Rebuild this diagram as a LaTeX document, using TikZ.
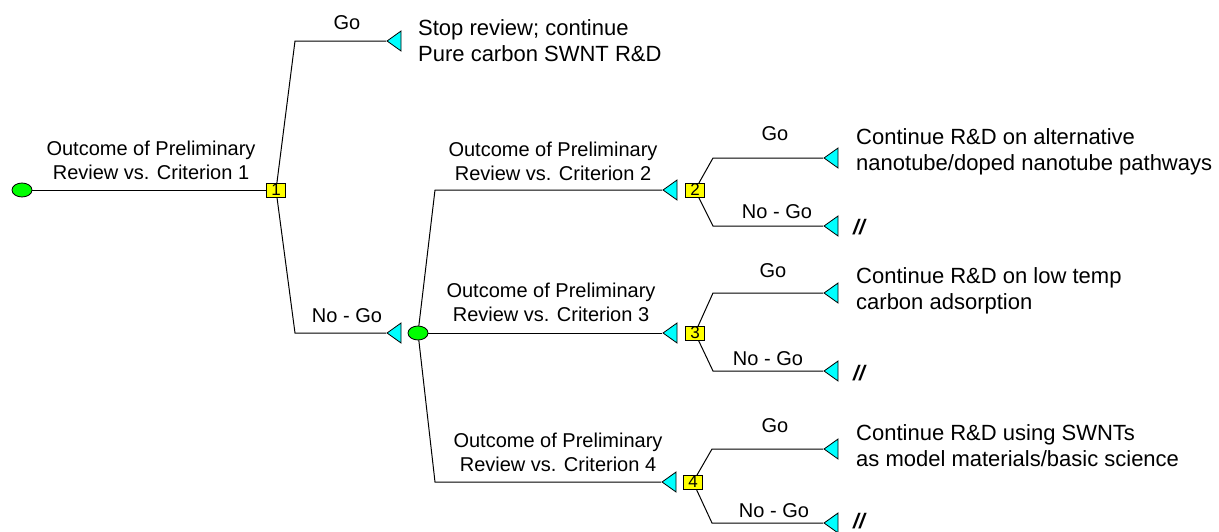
\documentclass[tikz,border=0pt]{standalone}
\usepackage{fontspec}
\setmainfont{Liberation Sans}
\usetikzlibrary{shapes.geometric,backgrounds}
\definecolor{chgreen}{RGB}{0,255,0}
\definecolor{decyellow}{RGB}{255,255,0}
\definecolor{termcyan}{RGB}{0,255,255}
\begin{document}
\begin{tikzpicture}[x=1pt,y=-1pt,
  chance/.style={ellipse,draw,fill=chgreen,minimum width=20pt,minimum height=14pt,inner sep=0,line width=0.8pt},
  decision/.style={rectangle,draw,fill=decyellow,minimum width=19pt,minimum height=14pt,inner sep=0,line width=0.8pt,font=\fontsize{17}{17}\selectfont},
  term/.style={isosceles triangle,isosceles triangle stretches,shape border rotate=180,draw,fill=termcyan,minimum width=20pt,minimum height=14pt,inner sep=0,line width=0.8pt,anchor=apex},
  lbl/.style={font=\fontsize{20}{24}\selectfont,align=center,inner sep=0},
  endtxt/.style={font=\fontsize{22}{26}\selectfont,align=left,anchor=west,inner sep=0},
  stopmark/.style={font=\fontsize{21}{24}\selectfont\bfseries\itshape,anchor=west,inner sep=0},
  branch/.style={draw,line width=1pt}]
\useasboundingbox (0,0) rectangle (1219,531);

% nodes
\node[chance] (root) at (22,190) {};
\node[decision] (d1) at (276,190) {1};
\node[term] (tgo1) at (386,41) {};
\node[term] (tng1) at (386,333) {};
\node[chance] (c1) at (418,333) {};
\node[term] (t2) at (662,190) {};
\node[term] (t3) at (662,333) {};
\node[term] (t4) at (661,482) {};
\node[decision] (d2) at (695,190) {2};
\node[decision] (d3) at (695,333) {3};
\node[decision] (d4) at (693,482) {4};
\node[term] (tgo2) at (823,158) {};
\node[term] (tng2) at (823,226) {};
\node[term] (tgo3) at (823,293) {};
\node[term] (tng3) at (823,371) {};
\node[term] (tgo4) at (823,449) {};
\node[term] (tng4) at (823,523) {};

% connectors
\begin{scope}[on background layer]
  \path[branch] (root.center) -- (d1.center);
  \path[branch] (d1.center) -- ([xshift=-91pt]tgo1.apex) -- (tgo1.apex);
  \path[branch] (d1.center) -- ([xshift=-91pt]tng1.apex) -- (tng1.apex);
  \path[branch] (c1.center) -- ([xshift=-227pt]t2.apex) -- (t2.apex);
  \path[branch] (c1.center) -- (t3.apex);
  \path[branch] (c1.center) -- ([xshift=-226pt]t4.apex) -- (t4.apex);
  \path[branch] (d2.center) -- ([xshift=-110pt]tgo2.apex) -- (tgo2.apex);
  \path[branch] (d2.center) -- ([xshift=-110pt]tng2.apex) -- (tng2.apex);
  \path[branch] (d3.center) -- ([xshift=-110pt]tgo3.apex) -- (tgo3.apex);
  \path[branch] (d3.center) -- ([xshift=-110pt]tng3.apex) -- (tng3.apex);
  \path[branch] (d4.center) -- ([xshift=-111pt]tgo4.apex) -- (tgo4.apex);
  \path[branch] (d4.center) -- ([xshift=-111pt]tng4.apex) -- (tng4.apex);
\end{scope}

% branch labels
\node[lbl] (lab1) at (151,160) {Outcome of Preliminary\\Review vs. Criterion 1};
\node[lbl] (lab2) at (553,161) {Outcome of Preliminary\\Review vs. Criterion 2};
\node[lbl] (lab3) at (551,302) {Outcome of Preliminary\\Review vs. Criterion 3};
\node[lbl] (lab4) at (558,452) {Outcome of Preliminary\\Review vs. Criterion 4};
\node[lbl] (go1) at (347,23) {Go};
\node[lbl] (ng1) at (347,316) {No - Go};
\node[lbl] (go2) at (775,134) {Go};
\node[lbl] (ng2) at (777,212) {No - Go};
\node[lbl] (go3) at (773,271) {Go};
\node[lbl] (ng3) at (768,359) {No - Go};
\node[lbl] (go4) at (775,426) {Go};
\node[lbl] (ng4) at (774,511) {No - Go};

% end texts
\node[endtxt] (e1) at (418,41) {Stop review; continue\\Pure carbon SWNT R\&D};
\node[endtxt] (e2) at (856,152) {Continue R\&D on alternative\\nanotube/doped nanotube pathways};
\node[endtxt] (e3) at (856,291) {Continue R\&D on low temp\\carbon adsorption};
\node[endtxt] (e4) at (856,446) {Continue R\&D using SWNTs\\as model materials/basic science};
\node[stopmark] (s2) at (853,227) {//};
\node[stopmark] (s3) at (853,373) {//};
\node[stopmark] (s4) at (853,521) {//};
\end{tikzpicture}
\end{document}
